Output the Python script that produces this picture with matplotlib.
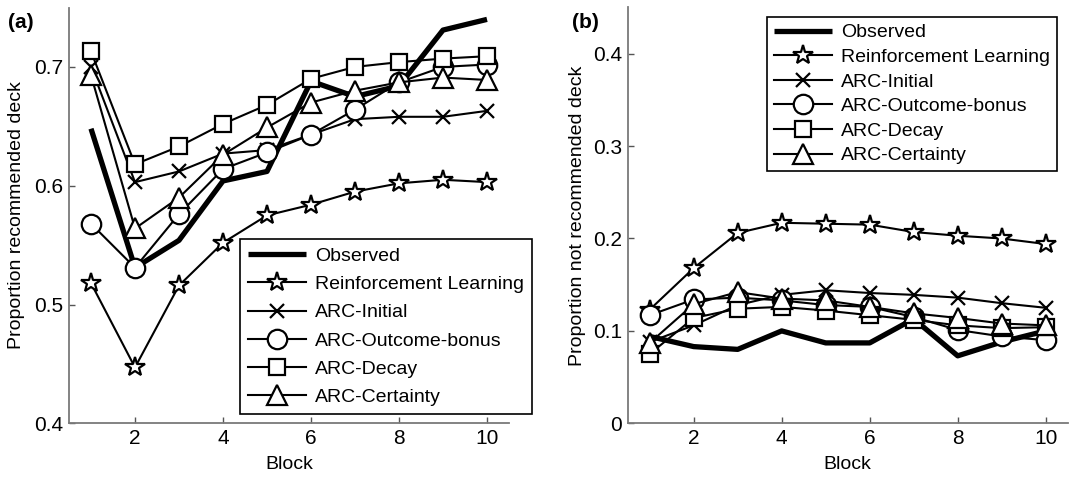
import numpy as np
import matplotlib
matplotlib.use('Agg')
import matplotlib.pyplot as plt

plt.rcParams['font.family'] = ['Liberation Sans', 'DejaVu Sans']

blocks = list(range(1, 11))
series_names = ['Observed', 'Reinforcement Learning', 'ARC-Initial',
                'ARC-Outcome-bonus', 'ARC-Decay', 'ARC-Certainty']

# (a) proportion of choices from the recommended deck
rec_observed = [0.648, 0.531, 0.554, 0.604, 0.612, 0.688, 0.675, 0.684, 0.731, 0.740]
rec_rl = [0.518, 0.447, 0.516, 0.552, 0.575, 0.584, 0.595, 0.602, 0.605, 0.603]
rec_initial = [0.700, 0.603, 0.612, 0.627, 0.630, 0.643, 0.656, 0.658, 0.658, 0.663]
rec_outcome = [0.568, 0.531, 0.576, 0.614, 0.628, 0.643, 0.664, 0.687, 0.700, 0.702]
rec_decay = [0.713, 0.618, 0.633, 0.652, 0.668, 0.690, 0.700, 0.704, 0.707, 0.709]
rec_certainty = [0.693, 0.564, 0.590, 0.626, 0.649, 0.670, 0.680, 0.687, 0.691, 0.689]

# (b) proportion of choices from the not recommended deck
not_observed = [0.094, 0.083, 0.080, 0.100, 0.087, 0.087, 0.113, 0.073, 0.088, 0.100]
not_rl = [0.123, 0.168, 0.206, 0.217, 0.216, 0.215, 0.207, 0.203, 0.200, 0.194]
not_initial = [0.088, 0.106, 0.128, 0.139, 0.144, 0.141, 0.139, 0.136, 0.130, 0.125]
not_outcome = [0.117, 0.134, 0.136, 0.133, 0.128, 0.126, 0.115, 0.101, 0.094, 0.090]
not_decay = [0.075, 0.114, 0.124, 0.126, 0.122, 0.117, 0.112, 0.106, 0.103, 0.104]
not_certainty = [0.087, 0.129, 0.142, 0.135, 0.133, 0.126, 0.119, 0.114, 0.108, 0.106]

# marker / size for each model line
styles = [
    dict(marker=None, lw=3.8),
    dict(marker='*', ms=15),
    dict(marker='x', ms=10),
    dict(marker='o', ms=14),
    dict(marker='s', ms=12),
    dict(marker='^', ms=14),
]

W, H = 1069, 479
fig = plt.figure(figsize=(W / 100, H / 100), dpi=100)


def draw_panel(ax, data, ylim, yticks, ylabel):
    for name, vals, st in zip(series_names, data, styles):
        if st['marker'] is None:
            ax.plot(blocks, vals, color='k', lw=st['lw'], label=name,
                    solid_capstyle='butt', zorder=2)
        else:
            ax.plot(blocks, vals, color='k', lw=1.5, marker=st['marker'],
                    ms=st['ms'], mfc='white', mec='k', mew=1.6, label=name,
                    zorder=3)
    ax.set_xlim(0.5, 10.5)
    ax.set_ylim(*ylim)
    ax.set_xticks([2, 4, 6, 8, 10])
    ax.set_yticks(yticks)
    ax.set_yticklabels([('%g' % t) for t in yticks])
    for side in ('top', 'right'):
        ax.spines[side].set_visible(False)
    for side in ('left', 'bottom'):
        ax.spines[side].set_color('#7a7a7a')
        ax.spines[side].set_linewidth(1.3)
    ax.tick_params(direction='in', length=4, width=1, color='#555555',
                   labelsize=15, pad=4)
    ax.set_xlabel('Block', fontsize=14)
    ax.set_ylabel(ylabel, fontsize=14)
    ax.xaxis.set_label_coords(0.5, (423.3 - 456) / 415.8)


ax1 = fig.add_axes([69 / W, 1 - 423.3 / H, 440 / W, 415.8 / H])
draw_panel(ax1, [rec_observed, rec_rl, rec_initial, rec_outcome, rec_decay, rec_certainty],
           (0.4, 0.75), [0.4, 0.5, 0.6, 0.7], 'Proportion recommended deck')
ax1.yaxis.set_label_coords((25 - 69) / 440, 0.5)

ax2 = fig.add_axes([627.7 / W, 1 - 423.3 / H, 440 / W, 415.8 / H])
draw_panel(ax2, [not_observed, not_rl, not_initial, not_outcome, not_decay, not_certainty],
           (0, 0.45), [0, 0.1, 0.2, 0.3, 0.4], 'Proportion not recommended deck')
ax2.yaxis.set_label_coords((586 - 627.7) / 440, 0.5)

leg1 = ax1.legend(loc='lower right', bbox_to_anchor=(532 / W, 1 - 414 / H),
                  bbox_transform=fig.transFigure, fontsize=14, numpoints=1,
                  handlelength=3.0, handletextpad=0.45, labelspacing=0.55,
                  borderpad=0.4, borderaxespad=0, fancybox=False, framealpha=1)
leg1.get_frame().set_edgecolor('k')
leg1.get_frame().set_linewidth(1.2)

leg2 = ax2.legend(loc='upper right', bbox_to_anchor=(1057 / W, 1 - 17 / H),
                  bbox_transform=fig.transFigure, fontsize=14, numpoints=1,
                  handlelength=3.0, handletextpad=0.45, labelspacing=0.36,
                  borderpad=0.35, borderaxespad=0, fancybox=False, framealpha=1)
leg2.get_frame().set_edgecolor('k')
leg2.get_frame().set_linewidth(1.2)

fig.text(8 / W, 1 - 22 / H, '(a)', fontsize=15, fontweight='bold', va='center', ha='left')
fig.text(572 / W, 1 - 22 / H, '(b)', fontsize=15, fontweight='bold', va='center', ha='left')

fig.savefig('out.png', dpi=100)
